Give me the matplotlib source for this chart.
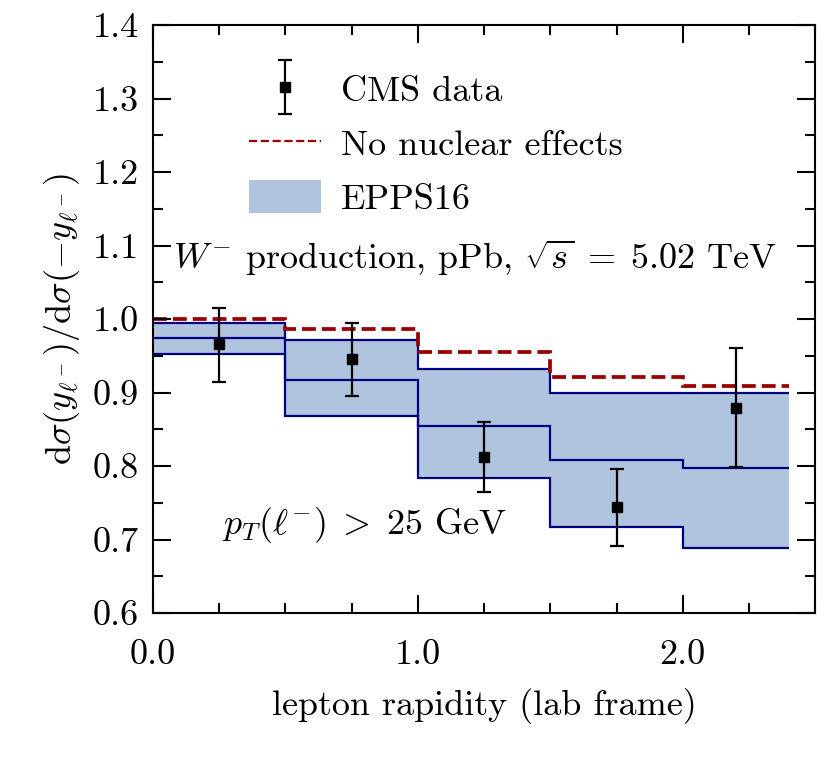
import matplotlib
matplotlib.use("Agg")
import matplotlib.pyplot as plt
from matplotlib.ticker import MultipleLocator, FormatStrFormatter
from matplotlib.patches import Patch
from matplotlib.lines import Line2D
from matplotlib.legend_handler import HandlerErrorbar
import numpy as np

plt.rcParams['font.family'] = 'serif'
plt.rcParams['font.serif'] = ['cmr10']
plt.rcParams['mathtext.fontset'] = 'cm'
plt.rcParams['axes.formatter.use_mathtext'] = True
plt.rcParams['font.size'] = 26

# bins in lepton rapidity
edges = [0.0, 0.5, 1.0, 1.5, 2.0, 2.4]

# EPPS16 band (upper / central / lower)
epps_hi = [0.995, 0.971, 0.932, 0.899, 0.899]
epps_mid = [0.974, 0.917, 0.854, 0.808, 0.797]
epps_lo = [0.952, 0.868, 0.784, 0.717, 0.689]

# no nuclear effects
no_nuc = [1.000, 0.986, 0.955, 0.921, 0.909]

# CMS data
cms_x = [0.25, 0.75, 1.25, 1.75, 2.2]
cms_y = [0.966, 0.946, 0.812, 0.744, 0.879]
cms_up = [1.015, 0.995, 0.860, 0.796, 0.960]
cms_dn = [0.914, 0.895, 0.765, 0.691, 0.799]

fig = plt.figure(figsize=(8.31, 7.62), dpi=100)
ax = fig.add_axes([0.184, 0.1955, 0.797, 0.7715])

# band
ax.fill_between(edges, epps_lo + [epps_lo[-1]], epps_hi + [epps_hi[-1]],
                step='post', color='#b0c4de', lw=0)
for vals in (epps_hi, epps_mid, epps_lo):
    ax.stairs(vals, edges, baseline=None, color='#000080', lw=1.6)

ax.stairs(no_nuc, edges, baseline=None, color='#990000', lw=2.7, ls='--')

yerr = [np.array(cms_y) - np.array(cms_dn), np.array(cms_up) - np.array(cms_y)]
h_cms = ax.errorbar(cms_x, cms_y, yerr=yerr, fmt='s', color='black', ms=7.5,
                    elinewidth=1.6, capsize=5, capthick=1.6, zorder=5)

ax.set_xlim(0, 2.5)
ax.set_ylim(0.6, 1.4)
ax.xaxis.set_major_locator(MultipleLocator(1.0))
ax.xaxis.set_minor_locator(MultipleLocator(0.25))
ax.yaxis.set_major_locator(MultipleLocator(0.1))
ax.yaxis.set_minor_locator(MultipleLocator(0.05))
ax.xaxis.set_major_formatter(FormatStrFormatter('%.1f'))
ax.yaxis.set_major_formatter(FormatStrFormatter('%.1f'))
ax.tick_params(which='both', direction='in', top=True, right=True, width=1.5)
ax.tick_params(which='major', length=13)
ax.tick_params(which='minor', length=7)
ax.tick_params(axis='x', which='major', pad=19)
ax.tick_params(axis='y', which='major', pad=10)
for s in ax.spines.values():
    s.set_linewidth(1.5)

ax.set_xlabel('lepton rapidity (lab frame)', labelpad=12)
ax.set_ylabel(r'$\mathrm{d}\sigma(y_{\ell^-})/\mathrm{d}\sigma(-y_{\ell^-})$', labelpad=8)

ax.text(0.03, 0.604, r'$W^{-}$ production, pPb, $\sqrt{s}\;=\;5.02$ TeV',
        transform=ax.transAxes, va='center', ha='left')
ax.text(0.104, 0.15, r'$p_T(\ell^{-})\;>\;25$ GeV',
        transform=ax.transAxes, va='center', ha='left')

h_nuc = Line2D([], [], color='#990000', lw=1.6, ls='--')
h_epps = Patch(facecolor='#b0c4de', edgecolor='none')
ax.legend([h_cms, h_nuc, h_epps], ['CMS data', 'No nuclear effects', 'EPPS16'],
          loc='upper left', bbox_to_anchor=(0.145, 0.9195), frameon=False,
          borderpad=0, borderaxespad=0, handlelength=2.0, handletextpad=0.55,
          labelspacing=0.51, handleheight=1.0,
          handler_map={type(h_cms): HandlerErrorbar(yerr_size=0.75)})

fig.savefig('out.png', dpi=100)
